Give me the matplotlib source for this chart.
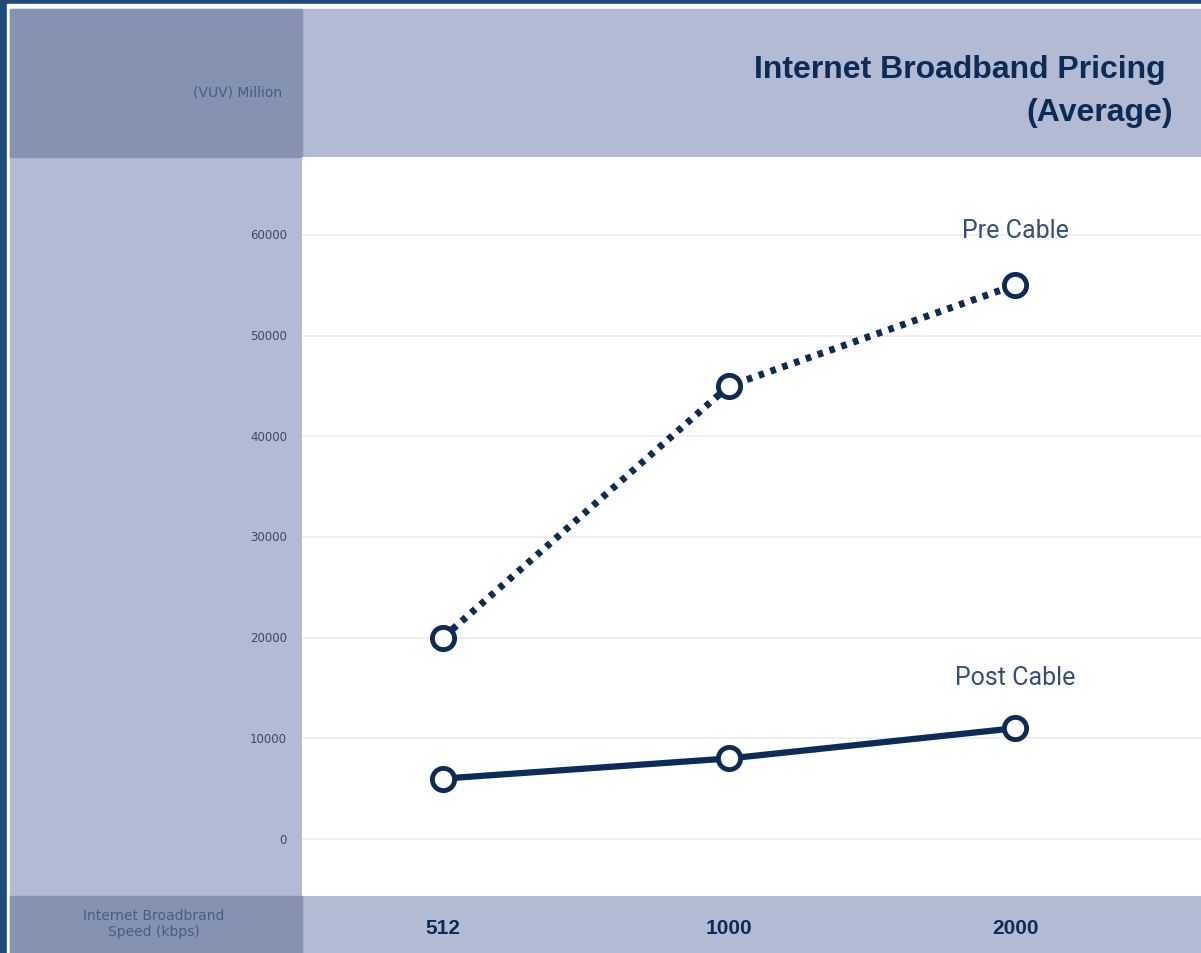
import matplotlib
matplotlib.use('Agg')
from matplotlib import pyplot as plt
from matplotlib.patches import Rectangle

# data
speeds = ['512', '1000', '2000']
pre_cable = [20000, 45000, 55000]
post_cable = [6000, 8000, 11000]
y_ticks = [0, 10000, 20000, 30000, 40000, 50000, 60000]

navy = '#0c2b57'
border = '#1e4a7e'
dark_panel = '#8592b2'
light_panel = '#b3bbd4'
text_col = '#3b4866'
faint_col = '#4b5b82'

W, H = 1201, 954
fig = plt.figure(figsize=(W / 100, H / 100), dpi=100)
fig.patch.set_facecolor(border)

# background panels (pixel coords)
bg = fig.add_axes([0, 0, 1, 1])
bg.set_xlim(0, W)
bg.set_ylim(H, 0)
bg.axis('off')
bg.add_patch(Rectangle((7, 5), W - 7, H - 5, color='white'))
bg.add_patch(Rectangle((10, 10), W - 10, H - 10, color=light_panel))
bg.add_patch(Rectangle((10, 10), 292, 148, color=dark_panel))
bg.add_patch(Rectangle((10, 897), 292, H - 897, color=dark_panel))

bg.text(282, 92, '(VUV) Million', ha='right', va='center', fontsize=10, color=faint_col)
bg.text(154, 924, 'Internet Broadbrand\nSpeed (kbps)', ha='center', va='center',
        fontsize=10, color=faint_col, linespacing=1.2)

title_font = ['Liberation Sans', 'DejaVu Sans']
bg.text(1166, 78, 'Internet Broadband Pricing', ha='right', va='baseline',
        fontsize=23, fontweight='bold', color=navy, family=title_font)
bg.text(1173, 121, '(Average)', ha='right', va='baseline',
        fontsize=23, fontweight='bold', color=navy, family=title_font)

# plot area
ax = fig.add_axes([302 / W, 1 - 897 / H, (W - 302) / W, (897 - 158) / H])
ax.set_facecolor('white')
x = range(len(speeds))
ax.plot(x, pre_cable, color=navy, lw=5, linestyle=(0, (0.8, 1.0)),
        marker='o', markersize=16, markerfacecolor='white',
        markeredgecolor=navy, markeredgewidth=3.5, zorder=3)
ax.plot(x, post_cable, color=navy, lw=4.5, linestyle='-',
        marker='o', markersize=16, markerfacecolor='white',
        markeredgecolor=navy, markeredgewidth=3.5, zorder=3)

label_font = ['Roboto', 'DejaVu Sans']
ax.text(x[-1], pre_cable[-1] + 5500, 'Pre Cable', ha='center', va='center',
        fontsize=18, color='#34507a', family=label_font)
ax.text(x[-1], post_cable[-1] + 5100, 'Post Cable', ha='center', va='center',
        fontsize=18, color='#34507a', family=label_font)

ax.set_xlim(-0.493, 2.65)
ax.set_ylim(-5660, 67730)
ax.set_yticks(y_ticks)
ax.grid(axis='y', color='#ececec', lw=1.2)
ax.set_axisbelow(True)
ax.tick_params(axis='both', length=0)
ax.set_xticks([])
ax.set_yticklabels([])
for s in ax.spines.values():
    s.set_visible(False)

# y tick labels in the left panel
for v in y_ticks:
    yp = ax.transData.transform((0, v))[1]
    bg.text(287, H - yp, str(v), ha='right', va='center', fontsize=8.5, color=text_col)

# x tick labels in the bottom band
for i, lab in enumerate(speeds):
    xp = ax.transData.transform((i, 0))[0]
    bg.text(xp, 929, lab, ha='center', va='center', fontsize=15,
            fontweight='bold', color=navy, family=title_font)

fig.savefig('out.png', dpi=100, facecolor=fig.get_facecolor())
